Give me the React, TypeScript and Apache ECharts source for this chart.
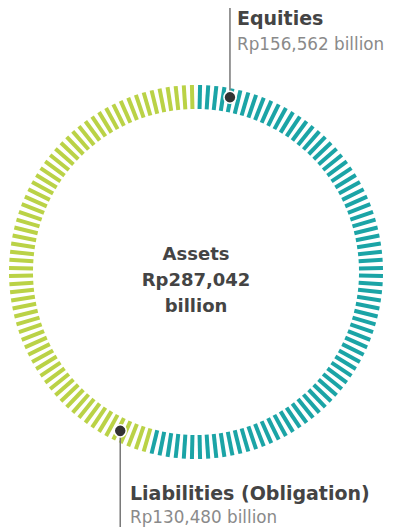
import React, { useEffect, useRef } from "react";
import * as echarts from "echarts";

const categories = ["Equities", "Liabilities (Obligation)"];
const values = [156562, 130480];
const valueLabels = ["Rp156,562 billion", "Rp130,480 billion"];
const centerLines = ["Assets", "Rp287,042", "billion"];
const colors = ["#1ba4a6", "#bad246"];

export default function App() {
  const ref = useRef<HTMLDivElement>(null);
  useEffect(() => {
    if (!ref.current) return;
    const chart = echarts.init(ref.current, undefined, { renderer: "svg" });
    const total = values.reduce((a, b) => a + b, 0);
    const cx = 196;
    const cy = 272;
    const R = 187;
    const step = 2.5;
    const nTicks = Math.round(360 / step);
    const start = 90 - step / 2;
    const dot = (deg: number, r: number) => {
      const a = (deg * Math.PI) / 180;
      return [cx + r * Math.sin(a), cy - r * Math.cos(a)];
    };
    const d1 = dot(11, 178);
    const d2 = dot(205.5, 176);
    const font = "'DejaVu Sans', sans-serif";
    chart.setOption({
      animation: false,
      series: [
        {
          type: "gauge",
          z: 1,
          center: [cx, cy],
          radius: R,
          startAngle: start,
          endAngle: start - 360 + step,
          min: 0,
          max: total,
          splitNumber: nTicks - 1,
          axisLine: {
            show: false,
            lineStyle: {
              width: 24,
              color: [
                [values[0] / total, colors[0]],
                [1, colors[1]],
              ],
            },
          },
          splitLine: {
            show: true,
            length: 24,
            distance: -24,
            lineStyle: { width: 4, color: "auto", cap: "butt" },
          },
          axisTick: { show: false },
          axisLabel: { show: false },
          pointer: { show: false },
          anchor: { show: false },
          title: { show: false },
          detail: { show: false },
          data: [{ value: values[0], name: categories[0] }],
        },
      ],
      graphic: [
        {
          type: "line",
          z: 100,
          shape: { x1: d1[0], y1: 8, x2: d1[0], y2: d1[1] },
          style: { stroke: "#777", lineWidth: 1.5 },
        },
        {
          type: "circle",
          z: 101,
          shape: { cx: d1[0], cy: d1[1], r: 6 },
          style: { fill: "#333", stroke: "#fff", lineWidth: 1.5 },
        },
        {
          type: "line",
          z: 100,
          shape: { x1: d2[0], y1: d2[1], x2: d2[0], y2: 527 },
          style: { stroke: "#777", lineWidth: 1.5 },
        },
        {
          type: "circle",
          z: 101,
          shape: { cx: d2[0], cy: d2[1], r: 6 },
          style: { fill: "#333", stroke: "#fff", lineWidth: 1.5 },
        },
        {
          type: "text",
          z: 100,
          x: 237,
          y: 18,
          style: {
            text: categories[0],
            font: `bold 19px ${font}`,
            fill: "#444",
            verticalAlign: "middle",
          },
        },
        {
          type: "text",
          z: 100,
          x: 237,
          y: 44,
          style: {
            text: valueLabels[0],
            font: `16.8px ${font}`,
            fill: "#8a8a8a",
            verticalAlign: "middle",
          },
        },
        {
          type: "text",
          z: 100,
          x: 130,
          y: 493,
          style: {
            text: categories[1],
            font: `bold 19px ${font}`,
            fill: "#444",
            verticalAlign: "middle",
          },
        },
        {
          type: "text",
          z: 100,
          x: 130,
          y: 517,
          style: {
            text: valueLabels[1],
            font: `16.8px ${font}`,
            fill: "#8a8a8a",
            verticalAlign: "middle",
          },
        },
        ...centerLines.map((t, i) => ({
          type: "text",
          z: 100,
          x: cx,
          y: 253 + i * 26,
          style: {
            text: t,
            font: `bold 18px ${font}`,
            fill: "#444",
            align: "center",
            verticalAlign: "middle",
          },
        })),
      ],
    });
    return () => chart.dispose();
  }, []);
  return (
    <div
      ref={ref}
      style={{ position: "fixed", left: 0, top: 0, width: 401, height: 527, background: "#fff" }}
    />
  );
}
